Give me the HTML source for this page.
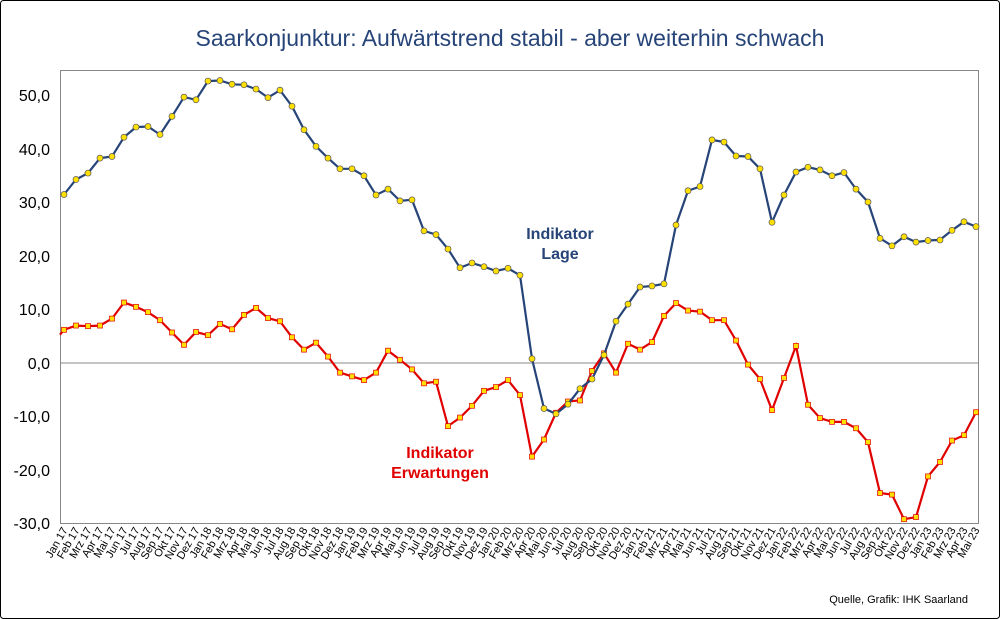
<!DOCTYPE html>
<html><head><meta charset="utf-8"><style>
body{margin:0;background:#fff}
svg{display:block}
text{font-family:"Liberation Sans",sans-serif}
</style></head><body>
<svg id="s" width="1000" height="619" xmlns="http://www.w3.org/2000/svg">
<rect x="0.5" y="0.5" width="999" height="618" fill="#fff" stroke="#000" rx="3"/>
<text x="510" y="46" text-anchor="middle" font-size="23" fill="#264478">Saarkonjunktur: Aufwärtstrend stabil - aber weiterhin schwach</text>
<rect x="60.5" y="70.5" width="918" height="453" fill="none" stroke="#888"/>
<line x1="60" y1="363" x2="978" y2="363" stroke="#888"/>
<g font-size="16" text-anchor="end" fill="#000">
<text x="50" y="101">50,0</text><text x="50" y="155">40,0</text><text x="50" y="208">30,0</text>
<text x="50" y="262">20,0</text><text x="50" y="315">10,0</text><text x="50" y="369">0,0</text>
<text x="50" y="422">-10,0</text><text x="50" y="476">-20,0</text><text x="50" y="529">-30,0</text>
</g>
<text x="560" y="239" text-anchor="middle" font-size="16" font-weight="bold" fill="#264478">Indikator</text>
<text x="560" y="259" text-anchor="middle" font-size="16" font-weight="bold" fill="#264478">Lage</text>
<text x="440" y="458" text-anchor="middle" font-size="16" font-weight="bold" fill="#E00000">Indikator</text>
<text x="440" y="478" text-anchor="middle" font-size="16" font-weight="bold" fill="#E00000">Erwartungen</text>
<text x="968" y="603" text-anchor="end" font-size="11" fill="#000">Quelle, Grafik: IHK Saarland</text>
<g id="g"></g>
</svg>
<script>
var L=[31.5,34.3,35.5,38.3,38.6,42.2,44.1,44.2,42.7,46.1,49.7,49.2,52.7,52.8,52.1,52.0,51.2,49.6,51.0,48.0,43.6,40.5,38.3,36.3,36.3,35.0,31.4,32.5,30.3,30.5,24.7,24.0,21.3,17.8,18.7,18.0,17.2,17.7,16.4,0.8,-8.5,-9.5,-7.7,-4.8,-3.0,1.5,7.8,11.0,14.2,14.4,14.8,25.8,32.2,33.0,41.7,41.3,38.7,38.6,36.3,26.3,31.4,35.7,36.6,36.1,35.0,35.6,32.5,30.1,23.3,21.9,23.6,22.6,22.9,23.0,24.8,26.4,25.5];
var E=[6.2,7,6.9,7,8.3,11.3,10.5,9.5,8,5.7,3.4,5.8,5.2,7.3,6.3,9,10.3,8.4,7.8,4.8,2.5,3.8,1.2,-1.8,-2.5,-3.2,-1.8,2.3,0.6,-1.2,-3.8,-3.5,-11.8,-10.2,-8,-5.2,-4.5,-3.2,-6,-17.5,-14.3,-9.3,-7.2,-7,-1.5,1.8,-1.8,3.6,2.5,3.9,8.8,11.2,9.8,9.6,8,8,4.2,-0.3,-3,-8.8,-2.8,3.2,-7.8,-10.3,-11,-11,-12.2,-14.8,-24.3,-24.6,-29.2,-28.8,-21.2,-18.5,-14.5,-13.5,-9.2];
var M=["Jan","Feb","Mrz","Apr","Mai","Jun","Jul","Aug","Sep","Okt","Nov","Dez"];
function X(i){return 64+i*12.0}function Y(v){return 363-v*5.35}
var h="";
function line(d,c,sq){var p=d.map(function(v,i){return X(i).toFixed(1)+","+Y(v).toFixed(1)}).join(" ");
if(sq)p="60,"+Y(5.3)+" "+p;
h+='<polyline points="'+p+'" fill="none" stroke="'+c+'" stroke-width="2.2"/>';
d.forEach(function(v,i){if(sq)h+='<rect x="'+(X(i)-2.5)+'" y="'+(Y(v)-2.5)+'" width="5" height="5" fill="#FFE000" stroke="'+c+'" stroke-width="0.7"/>';
else h+='<circle cx="'+X(i)+'" cy="'+Y(v)+'" r="3" fill="#FFE000" stroke="#555" stroke-width="0.7"/>';});}
line(E,"#E00000",true);line(L,"#264478",false);
for(var i=0;i<77;i++){var t=M[i%12]+" "+(17+Math.floor(i/12));
h+='<text transform="translate('+(X(i)+4)+',530) rotate(-60)" text-anchor="end" font-size="11">'+t+'</text>';}
document.getElementById("g").innerHTML=h;
</script>
</body></html>
